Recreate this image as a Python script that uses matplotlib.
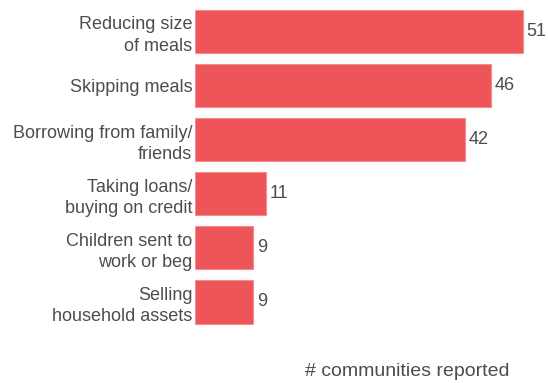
import matplotlib.pyplot as plt

plt.rcParams['font.family'] = ['Liberation Sans', 'DejaVu Sans']

# coping strategies and how many communities reported each
strategies = [
    "Reducing size\nof meals",
    "Skipping meals",
    "Borrowing from family/\nfriends",
    "Taking loans/\nbuying on credit",
    "Children sent to\nwork or beg",
    "Selling\nhousehold assets",
]
communities = [51, 46, 42, 11, 9, 9]

bar_color = "#EE5558"
text_color = "#4D4D4D"

fig = plt.figure(figsize=(5.48, 3.83), dpi=100)
ax = fig.add_axes([195 / 548, 27 / 383, 1 - 195 / 548, 1 - 27 / 383])

pos = range(len(strategies))
bars = ax.barh(pos, communities, height=0.8, color=bar_color,
               edgecolor="#F38C8E", linewidth=0.8)

for rect, v in zip(bars, communities):
    ax.text(rect.get_width() + 0.6, rect.get_y() + rect.get_height() / 2,
            str(v), va="center", ha="left", fontsize=13, color=text_color)

ax.set_yticks(list(pos))
ax.set_yticklabels(strategies, fontsize=13, color=text_color, linespacing=1.35)
ax.tick_params(axis="y", length=0, pad=2)
ax.set_xticks([])
ax.set_xlim(0, 54.9)
ax.set_ylim(6.0, -0.582)

for s in ax.spines.values():
    s.set_visible(False)

fig.text(407 / 548, 1 - 372 / 383, "# communities reported", ha="center",
         va="center", fontsize=14, color=text_color)

fig.savefig("out.png", dpi=100)
